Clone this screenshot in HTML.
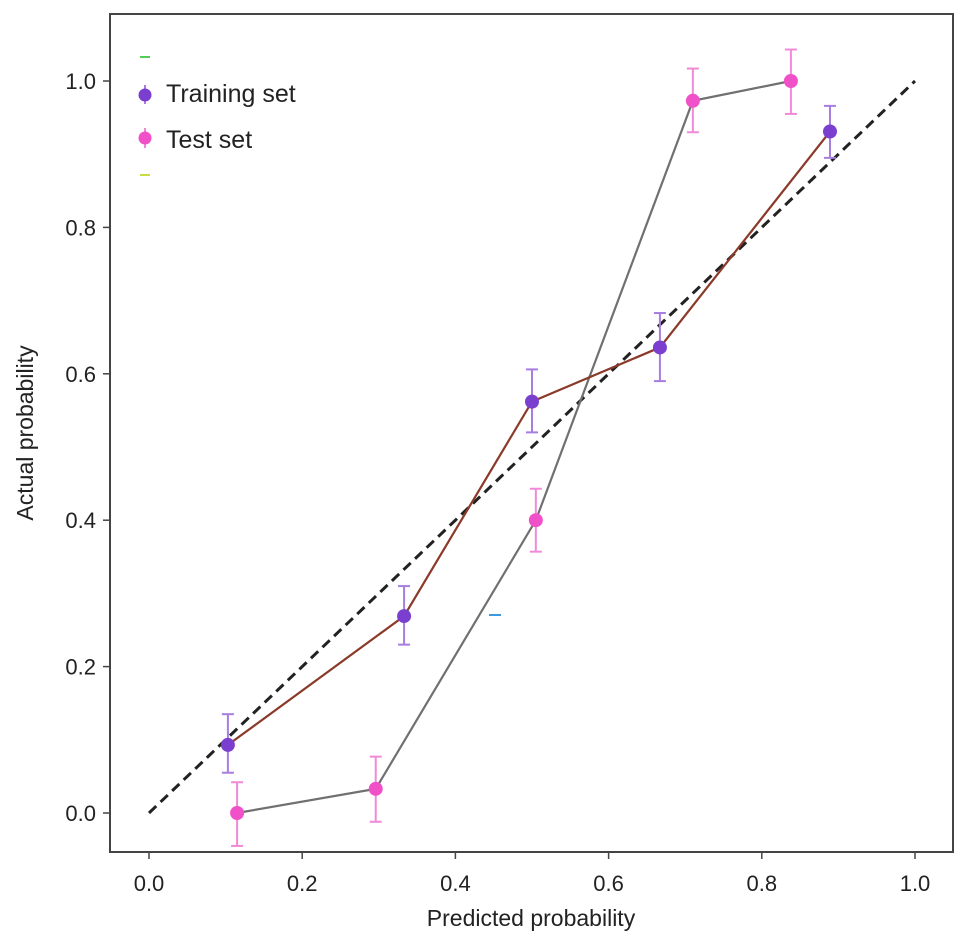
<!DOCTYPE html>
<html><head><meta charset="utf-8"><style>
body{margin:0;background:#fff;}
svg{display:block;font-family:"Liberation Sans",sans-serif;}
</style></head><body>
<svg id="chart" width="969" height="950">
<rect x="110" y="14" width="843" height="838" fill="#fff" stroke="#444" stroke-width="2"/>
<g id="axes"></g>
<g id="marks"></g>
<text x="531" y="926" font-size="23" fill="#222" text-anchor="middle">Predicted probability</text>
<text transform="translate(33,433) rotate(-90)" font-size="23" fill="#222" text-anchor="middle">Actual probability</text>
<g>
<rect x="140" y="56" width="10" height="2" fill="#5c5"/>
<rect x="140" y="174" width="10" height="2" fill="#cd4"/>
<g>
<line x1="145" y1="85" x2="145" y2="104" stroke="#a77de0" stroke-width="2"/>
<circle cx="145" cy="95" r="6.5" fill="#7b3fcf"/>
<text x="166" y="102" font-size="25" fill="#222">Training set</text></g>
<g>
<line x1="145" y1="128" x2="145" y2="148" stroke="#f08ad8" stroke-width="2"/>
<circle cx="145" cy="138" r="6.5" fill="#f050c8"/>
<text x="166" y="148" font-size="25" fill="#222">Test set</text></g>
</g>
<rect x="489" y="614" width="12" height="2" fill="#3a9be0"/>
</svg>
<script>
const xTicks=[0,0.2,0.4,0.6,0.8,1.0];
const yTicks=[0,0.2,0.4,0.6,0.8,1.0];
const trainX=[0.103,0.333,0.5,0.667,0.889];
const trainY=[0.093,0.269,0.562,0.636,0.931];
const trainLo=[0.055,0.23,0.52,0.59,0.895];
const trainHi=[0.135,0.31,0.606,0.683,0.966];
const testX=[0.115,0.296,0.505,0.71,0.838];
const testY=[0.0,0.033,0.4,0.973,1.0];
const testLo=[-0.045,-0.012,0.357,0.93,0.955];
const testHi=[0.042,0.077,0.443,1.017,1.043];
const sx=v=>149+v*766, sy=v=>813-v*732;
const NS='http://www.w3.org/2000/svg';
function mk(t,a,p){const e=document.createElementNS(NS,t);for(const k in a)e.setAttribute(k,a[k]);p.appendChild(e);return e;}
const ax=document.getElementById('axes'), mg=document.getElementById('marks');
xTicks.forEach(v=>{
 const l=mk('line',{x1:sx(v),x2:sx(v),y1:852,y2:859,stroke:'#444','stroke-width':1.5},ax);
 
 
 const t=mk('text',{x:sx(v),y:891,'font-size':22,fill:'#222','text-anchor':'middle'},ax);
 t.textContent=v.toFixed(1);
 
 
});
yTicks.forEach(v=>{
 const l=mk('line',{x1:103,x2:110,y1:sy(v),y2:sy(v),stroke:'#444','stroke-width':1.5},ax);
 
 
 const t=mk('text',{x:96,y:sy(v)+8,'font-size':22,fill:'#222','text-anchor':'end'},ax);
 t.textContent=v.toFixed(1);
 
 
});
const d=mk('line',{x1:sx(0),y1:sy(0),x2:sx(1),y2:sy(1),stroke:'#222','stroke-width':3,'stroke-dasharray':'10,6'},mg);


function series(X,Y,Lo,Hi,line,eb,pt,name){
 const pl=mk('polyline',{points:X.map((x,i)=>sx(x)+','+sy(Y[i])).join(' '),fill:'none',stroke:line,'stroke-width':2.2},mg);
 
 
 X.forEach((x,i)=>{
  const g=mk('g',{},mg);
  
  
  mk('line',{x1:sx(x),x2:sx(x),y1:sy(Lo[i]),y2:sy(Hi[i]),stroke:eb,'stroke-width':2},g);
  mk('line',{x1:sx(x)-6,x2:sx(x)+6,y1:sy(Lo[i]),y2:sy(Lo[i]),stroke:eb,'stroke-width':2},g);
  mk('line',{x1:sx(x)-6,x2:sx(x)+6,y1:sy(Hi[i]),y2:sy(Hi[i]),stroke:eb,'stroke-width':2},g);
  mk('circle',{cx:sx(x),cy:sy(Y[i]),r:7,fill:pt},g);
 });
}
series(testX,testY,testLo,testHi,'#707070','#f08ad8','#f050c8','test');
series(trainX,trainY,trainLo,trainHi,'#8b3a2a','#a77de0','#7b3fcf','training');
</script>
</body></html>
